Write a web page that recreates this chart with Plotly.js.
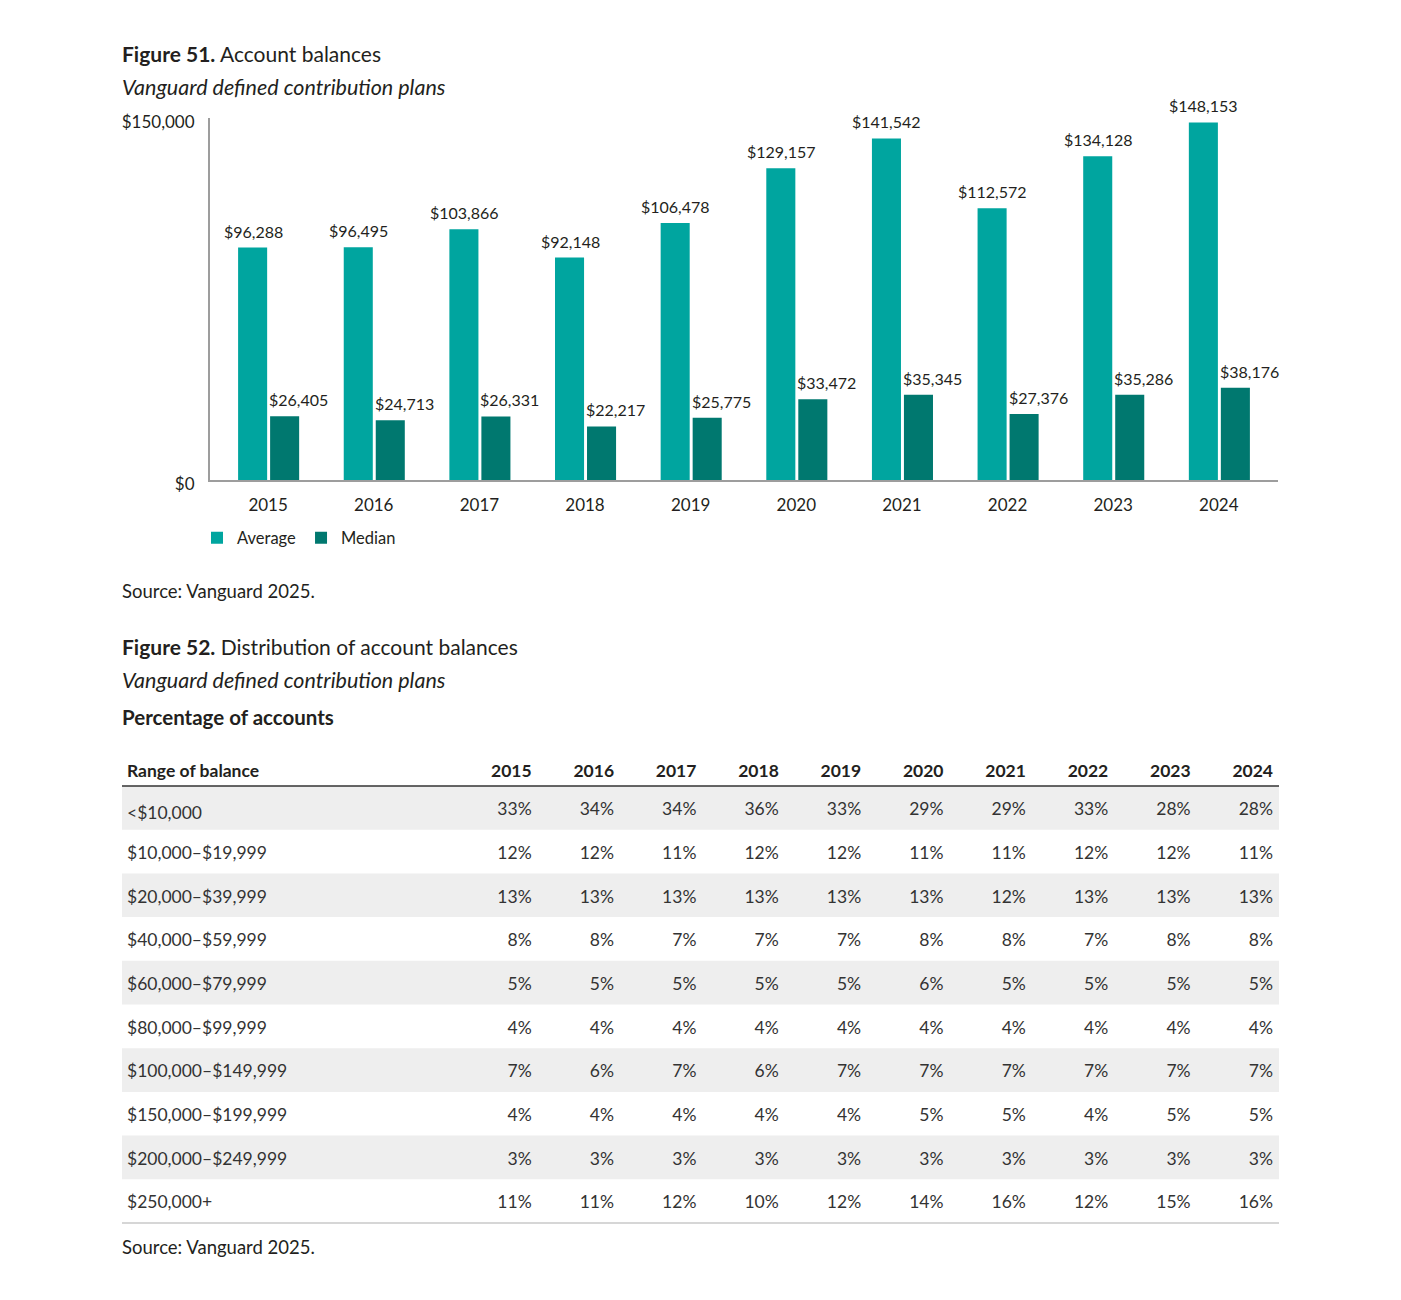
<!DOCTYPE html>
<html>
<head>
<meta charset="utf-8">
<script src="https://cdn.plot.ly/plotly-3.0.1.min.js"></script>
<style>
  body { margin: 0; background: #fff; }
  #chart { width: 1401px; height: 1300px; }
</style>
</head>
<body>
<div id="chart"></div>
<script>
// Figure 51 data
const years = ["2015", "2016", "2017", "2018", "2019", "2020", "2021", "2022", "2023", "2024"];
const averageBalance = [96288, 96495, 103866, 92148, 106478, 129157, 141542, 112572, 134128, 148153];
const medianBalance = [26405, 24713, 26331, 22217, 25775, 33472, 35345, 27376, 35286, 38176];

// Figure 52 data
const balanceRanges = ["<$10,000", "$10,000–$19,999", "$20,000–$39,999", "$40,000–$59,999",
  "$60,000–$79,999", "$80,000–$99,999", "$100,000–$149,999", "$150,000–$199,999",
  "$200,000–$249,999", "$250,000+"];
const pct2015 = [33, 12, 13, 8, 5, 4, 7, 4, 3, 11];
const pct2016 = [34, 12, 13, 8, 5, 4, 6, 4, 3, 11];
const pct2017 = [34, 11, 13, 7, 5, 4, 7, 4, 3, 12];
const pct2018 = [36, 12, 13, 7, 5, 4, 6, 4, 3, 10];
const pct2019 = [33, 12, 13, 7, 5, 4, 7, 4, 3, 12];
const pct2020 = [29, 11, 13, 8, 6, 4, 7, 5, 3, 14];
const pct2021 = [29, 11, 12, 8, 5, 4, 7, 5, 3, 16];
const pct2022 = [33, 12, 13, 7, 5, 4, 7, 4, 3, 12];
const pct2023 = [28, 12, 13, 8, 5, 4, 7, 5, 3, 15];
const pct2024 = [28, 11, 13, 8, 5, 4, 7, 5, 3, 16];

const W = 1401, H = 1300;
const px = v => v / W;          // pixel -> paper x
const py = v => 1 - v / H;      // pixel -> paper y

const FONT = "Lato, 'Noto Sans', sans-serif";
const INK = "#231f20";
const AVG_COLOR = "#00a59f";
const MED_COLOR = "#00786f";
const money = v => "$" + v.toLocaleString("en-US");

const avgTrace = {
  type: "bar", name: "Average", x: years, y: averageBalance,
  width: 0.275, offset: -0.284,
  marker: { color: AVG_COLOR }, hoverinfo: "skip"
};
const medTrace = {
  type: "bar", name: "Median", x: years, y: medianBalance,
  width: 0.275, offset: 0.019,
  marker: { color: MED_COLOR }, hoverinfo: "skip"
};

// table (bands are drawn as shapes under it, so the cells stay transparent)
const ROW_TOP = 786, ROW_H = 43.7;
const pctCols = [pct2015, pct2016, pct2017, pct2018, pct2019, pct2020, pct2021, pct2022, pct2023, pct2024]
  .map(col => col.map(v => v + "%"));
const tableTrace = {
  type: "table",
  domain: { x: [px(119), px(1282)], y: [py(1255), py(752)] },
  columnwidth: [338.6, 82.44, 82.44, 82.44, 82.44, 82.44, 82.44, 82.44, 82.44, 82.44, 82.44],
  header: {
    values: ["<b>Range of balance</b>"].concat(years.map(y => "<b>" + y + "</b>")),
    align: ["left"].concat(years.map(() => "right")),
    height: 42,
    font: { family: FONT, size: 17.5, color: INK },
    fill: { color: "rgba(0,0,0,0)" },
    line: { width: 0, color: "rgba(0,0,0,0)" }
  },
  cells: {
    values: [balanceRanges.map(s => s.replace("<", "&lt;"))].concat(pctCols),
    align: ["left"].concat(years.map(() => "right")),
    height: ROW_H,
    font: { family: FONT, size: 17.5, color: "#333333" },
    fill: { color: "rgba(0,0,0,0)" },
    line: { width: 0, color: "rgba(0,0,0,0)" }
  }
};

// value labels above bars
const labels = [];
years.forEach((yr, i) => {
  labels.push({
    xref: "x", yref: "y", x: i, y: averageBalance[i], text: money(averageBalance[i]),
    xanchor: "center", yanchor: "bottom", xshift: -15, yshift: 5, showarrow: false,
    font: { family: FONT, size: 16, color: INK }
  });
  labels.push({
    xref: "x", yref: "y", x: i, y: medianBalance[i], text: money(medianBalance[i]),
    xanchor: "left", yanchor: "bottom", xshift: -1, yshift: 5, showarrow: false,
    font: { family: FONT, size: 16, color: INK }
  });
});

const textNote = (y, text, size) => ({
  xref: "paper", yref: "paper", x: px(120), y: py(y), xanchor: "left", yanchor: "middle",
  text: text, showarrow: false, font: { family: FONT, size: size, color: INK }
});

const notes = [
  textNote(53, "<b>Figure 51.</b> Account balances", 21),
  textNote(87, "<i>Vanguard defined contribution plans</i>", 21.5),
  textNote(591, "Source: Vanguard 2025.", 18.5),
  textNote(646, "<b>Figure 52.</b> Distribution of account balances", 21),
  textNote(680, "<i>Vanguard defined contribution plans</i>", 21.5),
  textNote(717, "<b>Percentage of accounts</b>", 20.5),
  textNote(1247, "Source: Vanguard 2025.", 18.5)
];

const bandShapes = balanceRanges.map((r, k) => k).filter(k => k % 2 === 0).map(k => ({
  type: "rect", xref: "paper", yref: "paper", layer: "below",
  x0: px(122), x1: px(1279), y0: py(ROW_TOP + k * ROW_H), y1: py(ROW_TOP + (k + 1) * ROW_H),
  fillcolor: "#eeeeee", line: { width: 0 }
}));

const layout = {
  width: W, height: H,
  margin: { l: 0, r: 0, t: 0, b: 0 },
  paper_bgcolor: "#ffffff", plot_bgcolor: "rgba(0,0,0,0)",
  font: { family: FONT, color: INK },
  showlegend: true,
  legend: {
    orientation: "h", x: px(197), y: py(538), xanchor: "left", yanchor: "middle",
    font: { family: FONT, size: 16.5, color: INK }
  },
  xaxis: {
    domain: [px(210), px(1278)], anchor: "y",
    type: "category", range: [-0.55, 9.56],
    showline: true, linecolor: "#9d9d9d", linewidth: 2,
    showgrid: false, zeroline: false, ticks: "",
    ticklabelstandoff: 9,
    tickfont: { family: FONT, size: 17, color: INK }
  },
  yaxis: {
    domain: [py(480), py(118)], anchor: "x",
    range: [0, 150000],
    tickvals: [0, 150000], ticktext: ["$0", "$150,000"],
    showline: true, linecolor: "#9d9d9d", linewidth: 2,
    showgrid: false, zeroline: false, ticks: "",
    ticklabelstandoff: 10, ticklabelshift: 4,
    tickfont: { family: FONT, size: 17, color: INK }
  },
  shapes: bandShapes.concat([
    { type: "line", xref: "paper", yref: "paper", x0: px(122), x1: px(1279), y0: py(ROW_TOP), y1: py(ROW_TOP),
      line: { color: "#333333", width: 1.5 } },
    { type: "line", xref: "paper", yref: "paper", x0: px(122), x1: px(1279),
      y0: py(ROW_TOP + balanceRanges.length * ROW_H), y1: py(ROW_TOP + balanceRanges.length * ROW_H),
      line: { color: "#c8c8c8", width: 1.5 } }
  ]),
  annotations: labels.concat(notes)
};

Plotly.newPlot("chart", [avgTrace, medTrace, tableTrace], layout, { displayModeBar: false, staticPlot: true });
</script>
</body>
</html>
